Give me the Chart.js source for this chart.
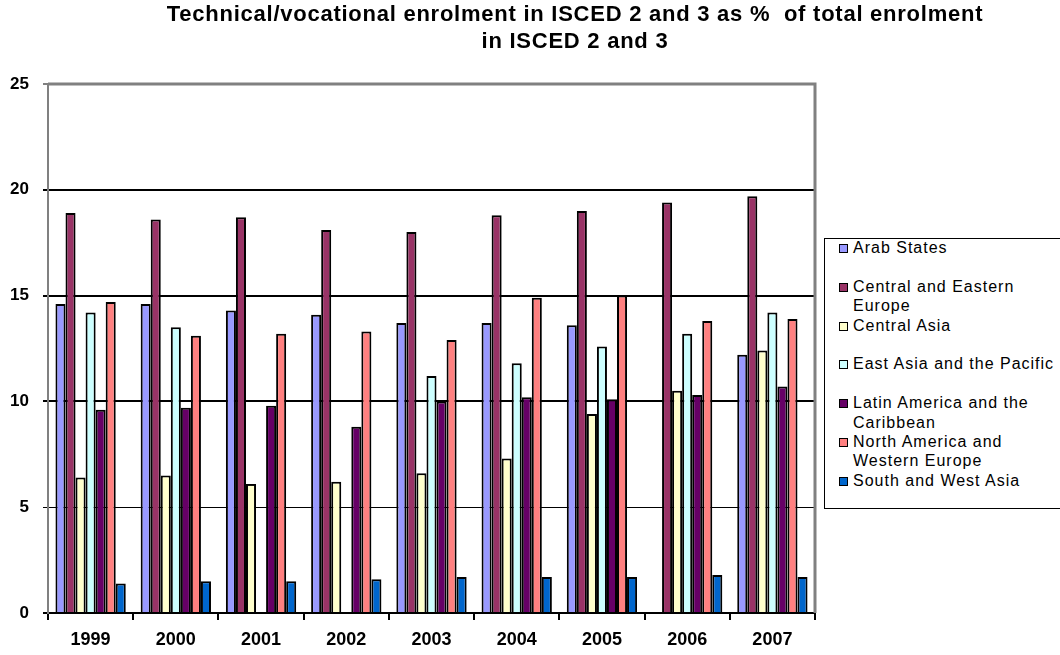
<!DOCTYPE html>
<html>
<head>
<meta charset="utf-8">
<script src="https://cdn.jsdelivr.net/npm/chart.js@4.4.1/dist/chart.umd.min.js"></script>
<style>
  html, body { margin: 0; padding: 0; background: #fff; overflow: hidden; }
  #wrap { position: relative; width: 1060px; height: 655px; }
  #c { position: absolute; left: 0; top: 0; }
  #title {
    position: absolute; left: 575px; top: 0; transform: translateX(-50%);
    white-space: pre; text-align: center;
    font-family: "Liberation Sans", Arial, sans-serif; font-weight: bold; font-size: 22px;
    letter-spacing: 0.75px; line-height: 27px; color: #000;
  }
  #legend {
    position: absolute; left: 824px; top: 238px; width: 250px; height: 271px;
    border: 1px solid #000; box-sizing: border-box; background: #fff;
    font-family: "Liberation Sans", Arial, sans-serif; font-size: 16px; letter-spacing: 1px; color: #000;
  }
  .item { position: relative; height: 38.8px; }
  .sw { position: absolute; left: 14px; top: 5px; width: 7px; height: 7px; border: 1px solid #000; }
  .tx { position: absolute; left: 28px; top: -1px; width: 205px; line-height: 19.4px; }
</style>
</head>
<body>
<div id="wrap">
  <canvas id="c" width="1060" height="655"></canvas>
  <div id="title"></div>
  <div id="legend"></div>
</div>
<script>
const years = ["1999", "2000", "2001", "2002", "2003", "2004", "2005", "2006", "2007"];
const seriesNames = ["Arab States", "Central and Eastern Europe", "Central Asia", "East Asia and the Pacific", "Latin America and the Caribbean", "North America and Western Europe", "South and West Asia"];
const seriesColors = ["#9999FF", "#993366", "#FFFFCC", "#CCFFFF", "#660066", "#FF8080", "#0066CC"];
const arabStates = [14.6, 14.6, 14.3, 14.1, 13.7, 13.7, 13.6, null, 12.2];
const centralEasternEurope = [18.9, 18.6, 18.7, 18.1, 18.0, 18.8, 19.0, 19.4, 19.7];
const centralAsia = [6.4, 6.5, 6.1, 6.2, 6.6, 7.3, 9.4, 10.5, 12.4];
const eastAsiaPacific = [14.2, 13.5, null, null, 11.2, 11.8, 12.6, 13.2, 14.2];
const latinAmericaCaribbean = [9.6, 9.7, 9.8, 8.8, 10.0, 10.2, 10.1, 10.3, 10.7];
const northAmericaWesternEurope = [14.7, 13.1, 13.2, 13.3, 12.9, 14.9, 15.0, 13.8, 13.9];
const southWestAsia = [1.4, 1.5, 1.5, 1.6, 1.7, 1.7, 1.7, 1.8, 1.7];
const yTicks = [0, 5, 10, 15, 20, 25];
const titleLines = ["Technical/vocational enrolment in ISCED 2 and 3 as %  of total enrolment", "in ISCED 2 and 3"];

const seriesValues = [arabStates, centralEasternEurope, centralAsia, eastAsiaPacific, latinAmericaCaribbean, northAmericaWesternEurope, southWestAsia];

const datasets = seriesNames.map((name, i) => ({
  label: name,
  data: seriesValues[i],
  backgroundColor: seriesColors[i],
  borderColor: "#000",
  borderWidth: 2,
  categoryPercentage: 0.825,
  barPercentage: 1.0
}));

const plotBorder = {
  id: "plotBorder",
  afterDraw(chart) {
    const a = chart.chartArea, ctx = chart.ctx;
    ctx.save();
    ctx.strokeStyle = "#808080";
    ctx.lineWidth = 3;
    ctx.beginPath();
    ctx.moveTo(a.left, a.top);
    ctx.lineTo(a.right, a.top);
    ctx.lineTo(a.right, a.bottom);
    ctx.stroke();
    ctx.restore();
  }
};

const chart = new Chart(document.getElementById("c"), {
  type: "bar",
  data: { labels: years, datasets },
  options: {
    responsive: false,
    animation: false,
    layout: { padding: { left: 0, right: 245, top: 84, bottom: 0 } },
    plugins: {
      legend: { display: false },
      tooltip: { enabled: false },
      title: { display: false }
    },
    scales: {
      x: {
        grid: { display: true, drawOnChartArea: false, drawTicks: true, tickLength: 7, color: "#000", lineWidth: 2, offset: true },
        border: { color: "#000", width: 2 },
        ticks: { color: "#000", padding: 9, font: { family: "'Liberation Sans', Arial, sans-serif", size: 18, weight: "bold" } },
        afterFit(s) { s.height = 42; }
      },
      y: {
        min: 0, max: 25,
        afterBuildTicks(s) { s.ticks = yTicks.map(v => ({ value: v })); },
        grid: {
          color: ctx => (ctx.tick && ctx.tick.value === 25) ? "#808080" : "#000",
          lineWidth: ctx => (ctx.tick && ctx.tick.value === 5) ? 1 : 2,
          tickLength: 5
        },
        border: { color: "#808080", width: 2 },
        ticks: { color: "#000", padding: 14, font: { family: "'Liberation Sans', Arial, sans-serif", size: 17, weight: "bold" } },
        afterFit(s) { s.width = 48; }
      }
    }
  },
  plugins: [plotBorder]
});

const titleEl = document.getElementById("title");
titleLines.forEach(line => {
  const d = document.createElement("div");
  d.textContent = line;
  titleEl.appendChild(d);
});

const legendEl = document.getElementById("legend");
chart.data.datasets.forEach(ds => {
  const item = document.createElement("div");
  item.className = "item";
  const sw = document.createElement("div");
  sw.className = "sw";
  sw.style.background = ds.backgroundColor;
  const tx = document.createElement("div");
  tx.className = "tx";
  tx.textContent = ds.label;
  item.appendChild(sw);
  item.appendChild(tx);
  legendEl.appendChild(item);
});
</script>
</body>
</html>
